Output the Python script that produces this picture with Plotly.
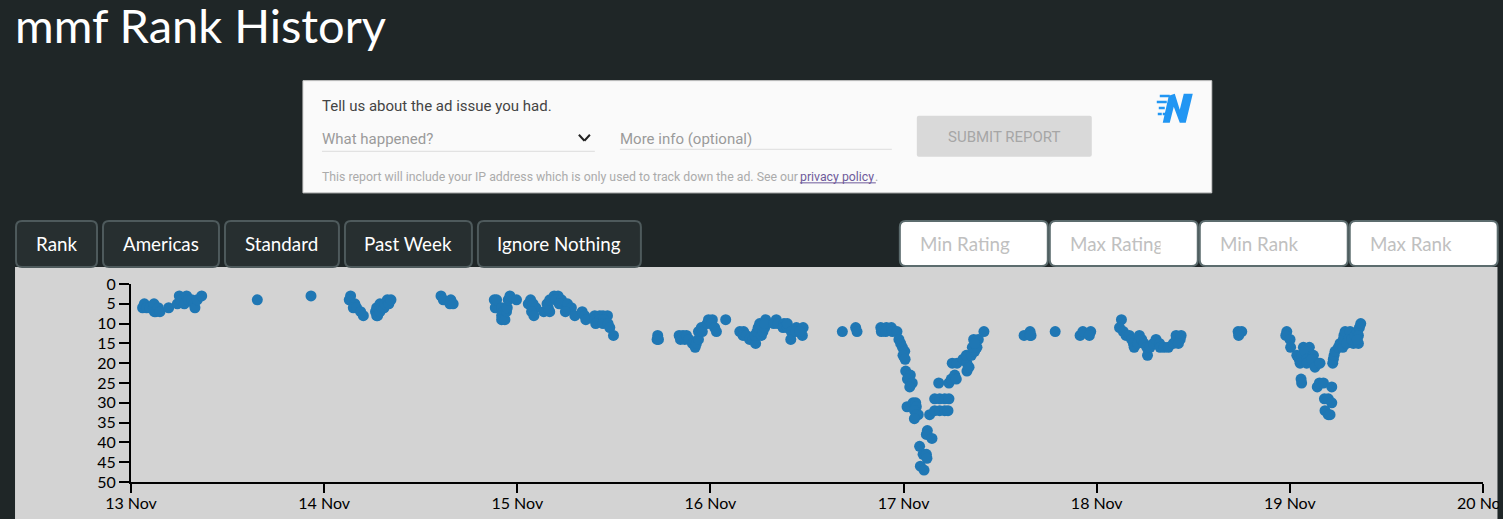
import pandas as pd
import plotly.graph_objects as go

# rank readings: days after 13 Nov and the rank at that moment
days = [
    .060, .069, .081, .098, .116, .119, .121, .129, .141, .150, .195,
    .240, .250, .257, .276, .288, .297, .314, .326, .331, .343, .366,
    .654, .932,
    1.137, 1.130, 1.159, 1.151, 1.168, 1.189, 1.203,
    1.266, 1.272, 1.272, 1.277, 1.289, 1.289, 1.297, 1.310, 1.315, 1.327, 1.335, 1.346,
    1.605, 1.617, 1.656, 1.651, 1.668,
    1.881, 1.886, 1.893, 1.919, 1.927, 1.919, 1.919, 1.936, 1.944, 1.948, 1.953, 1.962, 1.996,
    2.069, 2.057, 2.082, 2.096, 2.074, 2.086,
    2.137, 2.168, 2.160, 2.154, 2.168, 2.191, 2.211, 2.199, 2.229, 2.237, 2.217, 2.255, 2.260,
    2.280, 2.249, 2.298, 2.336, 2.349, 2.355, 2.401, 2.401, 2.427, 2.444, 2.427, 2.467, 2.448,
    2.406, 2.444, 2.470, 2.479, 2.498,
    2.727, 2.724, 2.731,
    2.838, 2.845, 2.858, 2.867, 2.876, 2.889, 2.907, 2.921, 2.927, 2.938, 2.938, 2.953, 2.958,
    2.983, 2.990, 3.010, 3.005, 3.022, 3.031, 3.079,
    3.152, 3.172, 3.169, 3.186, 3.203, 3.221, 3.234, 3.229, 3.241, 3.264, 3.247, 3.255, 3.272,
    3.281, 3.286, 3.281,
    3.341, 3.328, 3.350, 3.381, 3.376, 3.398, 3.398, 3.419, 3.416, 3.445, 3.442, 3.480, 3.476, 3.462,
    3.683, 3.752, 3.759,
    3.882, 3.885, 3.911, 3.907, 3.937, 3.942, 3.966, 3.976, 3.985, 3.994, 4.006, 3.997, 4.008,
    4.011, 4.035, 4.020, 4.045, 4.032,
    4.018, 4.049, 4.063, 4.066, 4.057, 4.076, 4.066, 4.056,
    4.083, 4.101, 4.118, 4.121, 4.087, 4.106, 4.123, 4.118, 4.147,
    4.182, 4.161, 4.187, 4.213, 4.235, 4.135, 4.161, 4.187, 4.213, 4.230,
    4.235, 4.247, 4.265, 4.273, 4.252, 4.277,
    4.308, 4.328, 4.328, 4.339, 4.325, 4.351, 4.368, 4.356, 4.380, 4.363, 4.387, 4.368, 4.416,
    4.624, 4.655, 4.655, 4.660, 4.785, 4.914, 4.928, 4.969, 4.962,
    5.128, 5.118, 5.138, 5.152, 5.169, 5.181, 5.190, 5.194, 5.211, 5.221, 5.233, 5.245, 5.259,
    5.263, 5.276, 5.294, 5.307, 5.325, 5.328, 5.349, 5.371, 5.397, 5.411, 5.411, 5.432, 5.437, 5.423,
    5.732, 5.751, 5.735,
    5.984, 5.979, 6.001, 6.004, 6.036, 6.048, 6.070, 6.061, 6.053, 6.101, 6.079, 6.087, 6.087,
    6.122, 6.113, 6.148, 6.130, 6.156,
    6.058, 6.061,
    6.142, 6.153, 6.174, 6.217, 6.179, 6.199, 6.217, 6.182, 6.199, 6.208,
    6.222, 6.225, 6.229, 6.234, 6.251, 6.260, 6.274, 6.277, 6.280, 6.286, 6.312, 6.303, 6.294,
    6.329, 6.320, 6.337, 6.355, 6.349, 6.360, 6.367, 6.355, 6.349,
]
ranks = [
    6, 5, 6, 6, 6, 5, 7, 7, 6, 7, 6,
    5, 3, 4, 5, 3, 4, 4, 5, 6, 4, 3,
    4, 3,
    3, 4, 5, 6, 6, 7, 8,
    7, 6, 8, 8, 7, 5, 6, 6, 5, 4, 5, 4,
    3, 4, 4, 5, 5,
    4, 6, 4, 6, 7, 8, 9, 9, 7, 6, 4, 3, 4,
    4, 5, 5, 6, 7, 8,
    7, 7, 6, 5, 4, 3, 3, 4, 4, 5, 5, 6, 5,
    6, 7, 8, 7, 8, 9, 8, 9, 8, 8, 9, 8, 9,
    10, 10, 10, 11, 13,
    13, 14, 14,
    13, 14, 13, 14, 13, 14, 15, 16, 15, 14, 12, 11, 12,
    10, 9, 9, 10, 11, 12, 9,
    12, 12, 13, 13, 14, 14, 15, 13, 12, 13, 11, 10, 12,
    11, 9, 10,
    9, 10, 10, 10, 11, 11, 10, 12, 14, 11, 12, 11, 13, 12,
    12, 11, 12,
    11, 12, 11, 12, 11, 12, 12, 14, 15, 16, 17, 18, 19,
    22, 23, 24, 25, 26,
    31, 30, 30, 31, 32, 33, 33, 34,
    41, 43, 43, 44, 46, 47, 37, 38, 39,
    25, 29, 29, 29, 29, 33, 32, 32, 32, 32,
    25, 24, 23, 24, 20, 20,
    19, 20, 22, 21, 18, 18, 17, 16, 16, 14, 14, 15, 12,
    13, 12, 13, 13, 12, 13, 12, 12, 13,
    9, 11, 12, 13, 13, 14, 15, 16, 15, 13, 14, 15, 16,
    18, 16, 15, 14, 15, 16, 16, 16, 15, 14, 13, 14, 13, 15,
    12, 12, 13,
    12, 13, 14, 16, 18, 19, 16, 18, 20, 16, 17, 19, 20,
    18, 19, 20, 21, 20,
    24, 25,
    26, 25, 25, 26, 29, 29, 30, 32, 33, 33,
    20, 19, 18, 17, 16, 15, 16, 14, 13, 12, 12, 14, 15,
    15, 14, 13, 15, 12, 11, 10, 13, 14,
]
x_ticks = ["2018-11-13", "2018-11-14", "2018-11-15", "2018-11-16",
           "2018-11-17", "2018-11-18", "2018-11-19", "2018-11-20"]
x_labels = ["13 Nov", "14 Nov", "15 Nov", "16 Nov", "17 Nov", "18 Nov", "19 Nov", "20 Nov"]
y_ticks = list(range(0, 55, 5))
buttons = ["Rank", "Americas", "Standard", "Past Week", "Ignore Nothing"]
inputs = ["Min Rating", "Max Rating", "Min Rank", "Max Rank"]

times = pd.Timestamp(x_ticks[0]) + pd.to_timedelta(days, unit="D")

W, H = 1503, 519
L, R, T, B = 131, 1483.3, 284, 481.7
PAGE = "#1f2627"


def px(x):
    return (x - L) / (R - L)


def py(y):
    return (B - y) / (B - T)


shapes = []
notes = []


def box(x0, y0, x1, y1, fill, line=None, width=0, radius=0, layer="below"):
    r = radius
    xs = lambda v: f"{px(v):.5f}"
    ys = lambda v: f"{py(v):.5f}"
    path = (f"M{xs(x0 + r)},{ys(y0)} L{xs(x1 - r)},{ys(y0)} Q{xs(x1)},{ys(y0)} {xs(x1)},{ys(y0 + r)} "
            f"L{xs(x1)},{ys(y1 - r)} Q{xs(x1)},{ys(y1)} {xs(x1 - r)},{ys(y1)} "
            f"L{xs(x0 + r)},{ys(y1)} Q{xs(x0)},{ys(y1)} {xs(x0)},{ys(y1 - r)} "
            f"L{xs(x0)},{ys(y0 + r)} Q{xs(x0)},{ys(y0)} {xs(x0 + r)},{ys(y0)} Z")
    shapes.append(dict(type="path", xref="paper", yref="paper", path=path, fillcolor=fill, layer=layer,
                       line=dict(color=line or fill, width=width)))


def rule(x0, y0, x1, y1, color, width=1):
    shapes.append(dict(type="line", xref="paper", yref="paper", x0=px(x0), y0=py(y0), x1=px(x1), y1=py(y1),
                       line=dict(color=color, width=width), layer="below"))


def poly(points, fill):
    path = "M" + " L".join(f"{px(a):.5f},{py(b):.5f}" for a, b in points) + " Z"
    shapes.append(dict(type="path", xref="paper", yref="paper", path=path, fillcolor=fill,
                       line=dict(width=0), layer="below"))


def label(x, y, text, size, color, family="Lato", anchor="left"):
    notes.append(dict(xref="paper", yref="paper", x=px(x), y=py(y), text=text, showarrow=False,
                      xanchor=anchor, yanchor="middle", borderpad=0, borderwidth=0,
                      font=dict(family=family, size=size, color=color)))


def cover(x, y, width, height, color):
    # blank note that cuts off text the way the page's overflow does
    notes.append(dict(xref="paper", yref="paper", x=px(x), y=py(y), text=" ", showarrow=False, xanchor="left",
                      yanchor="middle", bgcolor=color, width=width, height=height, borderpad=0))


# page furniture around the chart
box(15, 267, 1498, 525, "#d3d3d3")
label(15, 25, "mmf Rank History", 47, "#ffffff")

# report panel
box(303, 81, 1212, 193, "#fafafa", "#cfcfcf", 1)
label(322, 106, "Tell us about the ad issue you had.", 15, "#444444", "Roboto")
label(322, 139, "What happened?", 15, "#9a9a9a", "Roboto")
rule(322, 151.5, 595, 151.5, "#dddddd")
rule(579, 135, 584.5, 141, "#222222", 2)
rule(584.5, 141, 590, 135, "#222222", 2)
label(620, 139, "More info (optional)", 15, "#9a9a9a", "Roboto")
rule(620, 149.5, 892, 149.5, "#dddddd")
box(917, 116, 1092, 157, "#d9d9d9", radius=2)
label(1004.5, 137, "SUBMIT REPORT", 15, "#a6a6a6", "Roboto", "center")
label(322, 177, "This report will include your IP address which is only used to track down the ad. See our",
      12.3, "#ababab", "Roboto")
label(800, 177, "privacy policy", 12.3, "#6f5a9a", "Roboto")
rule(800, 183, 876, 183, "#6f5a9a")
label(875.5, 177, ".", 12.3, "#ababab", "Roboto")
poly([(1163, 123), (1169, 96), (1175, 94), (1180, 110), (1184, 94), (1193, 94), (1186, 123),
      (1180, 123), (1174, 107), (1170, 123)], "#2196f3")
for x0, x1, y0 in [(1160, 1170, 95), (1157, 1167, 101), (1159, 1165, 107), (1158, 1162, 113), (1163, 1166, 113)]:
    box(x0, y0, x1, y0 + 2.5, "#2196f3")

# filter buttons
button_edges = [(15, 98), (102, 220), (224, 340), (344, 473), (477, 642)]
for name, (x0, x1) in zip(buttons, button_edges):
    box(x0 + 1, 221, x1 - 1, 267, "#272f30", "#4e5a5c", 2, 6)
    label((x0 + x1) / 2, 243.5, name, 18.8, "#ffffff", anchor="center")

# filter inputs
input_edges = [(900, 1048), (1050, 1198), (1200, 1348), (1350, 1498)]
for name, (x0, x1) in zip(inputs, input_edges):
    box(x0, 221, x1, 266, "#ffffff", "#5c6c6e", 2, 6)
    label(x0 + 20, 243.5, name, 18.8, "#c0c0c0")
cover(1160, 245, 8, 28, "#ffffff")

# plotly drops the last date label at the edge of the page, so it goes in as a note
label(1483.3, 502.5, x_labels[-1], 16, "#000000", anchor="center")
cover(1498, 502.5, 10, 24, PAGE)
box(1498, 267, 1510, 525, PAGE, layer="above")

fig = go.Figure()
fig.add_trace(go.Scatter(x=times, y=ranks, mode="markers", cliponaxis=False,
                         marker=dict(color="#1f77b4", size=11, line=dict(width=0))))

fig.update_layout(
    width=W, height=H, showlegend=False,
    margin=dict(l=L, r=W - R, t=T, b=H - B, pad=0),
    paper_bgcolor=PAGE, plot_bgcolor="rgba(0,0,0,0)",
    font=dict(family="Lato", size=16, color="#000000"),
    shapes=shapes, annotations=notes,
)
fig.update_xaxes(type="date", range=[x_ticks[0], x_ticks[-1]], tickmode="array", tickvals=x_ticks,
                 ticktext=x_labels, ticks="outside", ticklen=9, tickwidth=2, tickcolor="#000000",
                 showline=True, linecolor="#000000", linewidth=2, showgrid=False, zeroline=False, tickangle=0,
                 automargin=False, ticklabelstandoff=-3)
fig.update_yaxes(range=[50, 0], tickmode="array", tickvals=y_ticks, ticks="outside", ticklen=10, tickwidth=2,
                 tickcolor="#000000", showline=True, linecolor="#000000", linewidth=2, showgrid=False,
                 zeroline=False, automargin=False)

fig.write_html("out.html", config=dict(displayModeBar=False),
               post_script="document.body.style.margin='0';document.body.style.overflow='hidden';")
